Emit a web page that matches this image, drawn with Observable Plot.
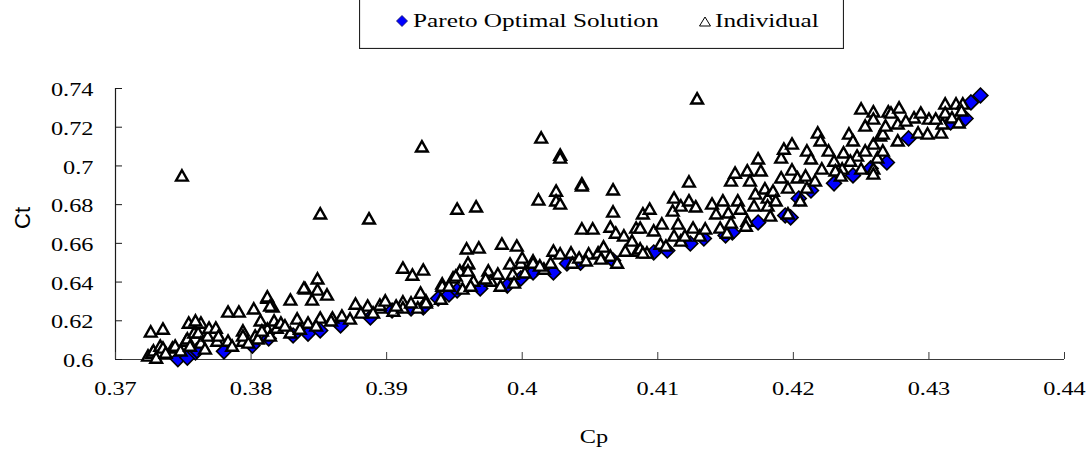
<!DOCTYPE html>
<html>
<head>
<meta charset="utf-8">
<script src="https://cdn.jsdelivr.net/npm/d3@7"></script>
<script src="https://cdn.jsdelivr.net/npm/@observablehq/plot@0.6"></script>
<style>
  body { margin: 0; background: #fff; }
  #wrap { position: relative; width: 1090px; height: 457px; overflow: hidden; background: #fff; }
  #legend { position: absolute; left: 359px; top: -4px; }
</style>
</head>
<body>
<div id="wrap"></div>
<script>
// Pareto optimal solutions (Cp, Ct)
const paretoCp = [
  0.3746, 0.3753, 0.3759, 0.3760, 0.3780, 0.3801, 0.3813, 0.3831, 0.3842, 0.3851,
  0.3866, 0.3888, 0.3904, 0.3918, 0.3927, 0.3938, 0.3946, 0.3952, 0.3969, 0.3989,
  0.3999, 0.4008, 0.4023, 0.4033, 0.4043, 0.4067, 0.4097, 0.4107, 0.4124, 0.4134,
  0.4150, 0.4155, 0.4174, 0.4194, 0.4198, 0.4204, 0.4213, 0.4230, 0.4244, 0.4257,
  0.4269, 0.4285, 0.4316, 0.4327, 0.4331, 0.4338
];
const paretoCt = [
  0.6002, 0.6010, 0.6036, 0.6047, 0.6042, 0.6072, 0.6109, 0.6124, 0.6134, 0.6150,
  0.6176, 0.6217, 0.6253, 0.6264, 0.6269, 0.6315, 0.6336, 0.6357, 0.6367, 0.6382,
  0.6419, 0.6450, 0.6450, 0.6496, 0.6500, 0.6512, 0.6553, 0.6563, 0.6599, 0.6625,
  0.6641, 0.6656, 0.6708, 0.6744, 0.6734, 0.6832, 0.6873, 0.6910, 0.6951, 0.6987,
  0.7018, 0.7142, 0.7225, 0.7245, 0.7328, 0.7364
];

// All individuals of the population (Cp, Ct)
const individualCp = [
  0.3749, 0.3851, 0.3887, 0.3926, 0.3952, 0.3966, 0.4014, 0.4028, 0.4028, 0.4044,
  0.4044, 0.4067, 0.4012, 0.4025, 0.4025, 0.4028, 0.4067, 0.4044, 0.4052, 0.4065,
  0.4069, 0.4129, 0.4123, 0.3912, 0.3919, 0.3927, 0.3849, 0.3840, 0.3849, 0.3856,
  0.3829, 0.3845, 0.3812, 0.3816, 0.3949, 0.3941, 0.3954, 0.3959, 0.3968, 0.3985,
  0.3996, 0.3960,
  0.3726, 0.3735, 0.3724, 0.3727, 0.3728, 0.3732, 0.3733, 0.3735, 0.3742, 0.3744,
  0.3752, 0.3753, 0.3758, 0.3761, 0.3754, 0.3763, 0.3759, 0.3763, 0.3768, 0.3769,
  0.3774, 0.3775, 0.3776, 0.3783, 0.3783, 0.3791, 0.3794, 0.3794, 0.3794, 0.3802,
  0.3803, 0.3805, 0.3812, 0.3814, 0.3812, 0.3814, 0.3817, 0.3819, 0.3807, 0.3822,
  0.3829, 0.3834, 0.3839, 0.3842, 0.3851, 0.3860, 0.3867, 0.3877, 0.3886, 0.3895,
  0.3895, 0.3905, 0.3912, 0.3912, 0.3923, 0.3925, 0.3929, 0.3929, 0.3940, 0.3941,
  0.3951, 0.3956, 0.3960, 0.3960, 0.3964, 0.3975, 0.3977, 0.3982, 0.3991, 0.3993,
  0.3994, 0.3999, 0.4000, 0.4008, 0.4008, 0.4016, 0.4023, 0.4028, 0.4036, 0.4037,
  0.4042, 0.4049, 0.4056, 0.4060, 0.4065, 0.4070, 0.4075, 0.4084, 0.4085, 0.4092,
  0.4087, 0.4087, 0.4089, 0.4089, 0.4094, 0.4097, 0.4102, 0.4103, 0.4111, 0.4112,
  0.4112, 0.4115, 0.4117, 0.4117, 0.4123, 0.4126, 0.4128, 0.4131, 0.4140, 0.4143,
  0.4146, 0.4148, 0.4151, 0.4152, 0.4154, 0.4154, 0.4157, 0.4159, 0.4161, 0.4166,
  0.4166, 0.4168, 0.4171, 0.4172, 0.4174, 0.4176, 0.4179, 0.4181, 0.4181, 0.4185,
  0.4191, 0.4191, 0.4193, 0.4196, 0.4196, 0.4199, 0.4199, 0.4203, 0.4210, 0.4210,
  0.4213, 0.4218, 0.4220, 0.4221, 0.4226, 0.4230, 0.4236, 0.4237, 0.4241, 0.4244,
  0.4247, 0.4250, 0.4250, 0.4259, 0.4259, 0.4259, 0.4259, 0.4259, 0.4262, 0.4264,
  0.4266, 0.4266, 0.4270, 0.4272, 0.4277, 0.4277, 0.4278, 0.4289, 0.4292, 0.4299,
  0.4300, 0.4309, 0.4310, 0.4312, 0.4312, 0.4317, 0.4320, 0.4322, 0.4325,
  0.3730, 0.3737, 0.3748, 0.3755, 0.3766, 0.3786, 0.3798, 0.3808, 0.3825, 0.3836,
  0.3848, 0.3859, 0.3873, 0.3881, 0.3890, 0.3899, 0.3907, 0.3918, 0.3946,
  0.3962, 0.3973, 0.3984, 0.4002, 0.4013, 0.4021, 0.4047, 0.4058, 0.4076, 0.4081,
  0.4106, 0.4120, 0.4135, 0.4165, 0.4183, 0.4187, 0.4205, 0.4209, 0.4216, 0.4231,
  0.4235, 0.4242, 0.4253, 0.4253, 0.4268, 0.4283, 0.4294, 0.4305, 0.4324
];
const individualCt = [
  0.6951, 0.6755, 0.6729, 0.7101, 0.6780, 0.6791, 0.7147, 0.7059, 0.7044, 0.6910,
  0.6900, 0.6879, 0.6827, 0.6873, 0.6822, 0.6806, 0.6765, 0.6677, 0.6677, 0.6687,
  0.6656, 0.7349, 0.6920, 0.6475, 0.6439, 0.6465, 0.6419, 0.6367, 0.6362, 0.6336,
  0.6310, 0.6310, 0.6320, 0.6274, 0.6424, 0.6393, 0.6460, 0.6574, 0.6579, 0.6599,
  0.6589, 0.6496,
  0.6145, 0.6160, 0.6021, 0.6036, 0.6047, 0.6036, 0.6072, 0.6062, 0.6062, 0.6072,
  0.6098, 0.6109, 0.6140, 0.6140, 0.6191, 0.6191, 0.6202, 0.6088, 0.6124, 0.6165,
  0.6165, 0.6098, 0.6124, 0.6098, 0.6248, 0.6248, 0.6150, 0.6098, 0.6124, 0.6264,
  0.6124, 0.6109, 0.6326, 0.6279, 0.6160, 0.6124, 0.6202, 0.6165, 0.6202, 0.6191,
  0.6140, 0.6212, 0.6372, 0.6191, 0.6217, 0.6217, 0.6227, 0.6289, 0.6279, 0.6269,
  0.6284, 0.6253, 0.6300, 0.6269, 0.6269, 0.6346, 0.6305, 0.6295, 0.6315, 0.6382,
  0.6434, 0.6367, 0.6501, 0.6460, 0.6408, 0.6460, 0.6408, 0.6444, 0.6496, 0.6444,
  0.6398, 0.6501, 0.6527, 0.6512, 0.6501, 0.6470, 0.6563, 0.6548, 0.6553, 0.6501,
  0.6527, 0.6548, 0.6553, 0.6584, 0.6537, 0.6501, 0.6641, 0.6682, 0.6563, 0.6553,
  0.6682, 0.6574, 0.6755, 0.6553, 0.6780, 0.6667, 0.6599, 0.6703, 0.6770, 0.6837,
  0.6641, 0.6703, 0.6796, 0.6615, 0.6822, 0.6682, 0.6791, 0.6641, 0.6806, 0.6755,
  0.6682, 0.6822, 0.6656, 0.6760, 0.6708, 0.6925, 0.6966, 0.6822, 0.6780, 0.6718,
  0.6977, 0.6925, 0.6796, 0.6858, 0.7039, 0.6977, 0.6884, 0.6837, 0.6796, 0.6873,
  0.7044, 0.6941, 0.7090, 0.6889, 0.6755, 0.7116, 0.6982, 0.6941, 0.7080, 0.6889,
  0.7039, 0.7173, 0.7132, 0.6987, 0.7080, 0.7028, 0.6987, 0.7070, 0.7168, 0.7132,
  0.7054, 0.7297, 0.6987, 0.7282, 0.7245, 0.7116, 0.6987, 0.6961, 0.7044, 0.7158,
  0.7168, 0.7080, 0.7282, 0.7276, 0.7220, 0.7132, 0.7302, 0.7251, 0.7173, 0.7168,
  0.7245, 0.7173, 0.7220, 0.7323, 0.7276, 0.7251, 0.7323, 0.7225, 0.7323,
  0.6010, 0.6036, 0.6047, 0.6072, 0.6057, 0.6072, 0.6088, 0.6150, 0.6176, 0.6160,
  0.6176, 0.6202, 0.6212, 0.6243, 0.6243, 0.6305, 0.6279, 0.6295, 0.6382,
  0.6382, 0.6419, 0.6382, 0.6450, 0.6486, 0.6501, 0.6512, 0.6522, 0.6563, 0.6615,
  0.6589, 0.6641, 0.6677, 0.6692, 0.6744, 0.6822, 0.6822, 0.6951, 0.6925, 0.6977,
  0.6951, 0.7028, 0.7080, 0.7209, 0.7209, 0.7235, 0.7276, 0.7245, 0.7287
];

// Axis ticks and their labels
const xTicks = [0.37, 0.38, 0.39, 0.40, 0.41, 0.42, 0.43, 0.44];
const xTickLabels = ["0.37", "0.38", "0.39", "0.4", "0.41", "0.42", "0.43", "0.44"];
const yTicks = [0.60, 0.62, 0.64, 0.66, 0.68, 0.70, 0.72, 0.74];
const yTickLabels = ["0.6", "0.62", "0.64", "0.66", "0.68", "0.7", "0.72", "0.74"];
const xTitle = "Cp";
const yTitle = "Ct";
const seriesNames = ["Pareto Optimal Solution", "Individual"];

const pareto = paretoCp.map((cp, i) => ({cp, ct: paretoCt[i]}));
const individuals = individualCp.map((cp, i) => ({cp, ct: individualCt[i]}));
const xLabelOf = new Map(xTicks.map((t, i) => [t, xTickLabels[i]]));
const yLabelOf = new Map(yTicks.map((t, i) => [t, yTickLabels[i]]));

// Marker shapes: hollow triangle and filled diamond, sized from the dot radius
const triangleShape = {
  draw(ctx, size) {
    const r = Math.sqrt(size / Math.PI);
    const h = 1.1 * r, w = 1.25 * r;
    ctx.moveTo(0, -h); ctx.lineTo(w, h); ctx.lineTo(-w, h); ctx.closePath();
  }
};
const diamondShape = {
  draw(ctx, size) {
    const r = Math.sqrt(size / Math.PI);
    const d = 1.55 * r;
    ctx.moveTo(0, -d); ctx.lineTo(d, 0); ctx.lineTo(0, d); ctx.lineTo(-d, 0); ctx.closePath();
  }
};

const serif = "Liberation Serif, Times New Roman, serif";

const chart = Plot.plot({
  width: 1090,
  height: 457,
  marginLeft: 115,
  marginRight: 26,
  marginTop: 88,
  marginBottom: 98,
  style: {fontFamily: serif, fontSize: "19px", background: "#fff", color: "#000", overflow: "visible"},
  x: {domain: [0.37, 0.44], axis: null},
  y: {domain: [0.6, 0.74], axis: null},
  marks: [
    // axis lines
    Plot.ruleY([0.6], {stroke: "#3a3a3a", strokeWidth: 1.2}),
    Plot.ruleX([0.37], {stroke: "#1a1a1a", strokeWidth: 1.2}),
    // inward tick marks
    Plot.axisX({ticks: xTicks, tickSize: 7, dy: -7, tickFormat: () => "", label: null, stroke: "#3a3a3a"}),
    Plot.axisY({ticks: yTicks, tickSize: 7, dx: 7, tickFormat: () => "", label: null, stroke: "#1a1a1a"}),
    // tick labels
    Plot.axisX({ticks: xTicks, tickSize: 0, tickPadding: 22, tickFormat: (d) => xLabelOf.get(d), label: null, fill: "#000"}),
    Plot.axisY({ticks: yTicks, tickSize: 0, tickPadding: 22, dy: 1.5, tickFormat: (d) => yLabelOf.get(d), label: null, fill: "#000"}),
    // axis titles
    Plot.text([yTitle], {text: (d) => d, frameAnchor: "left", rotate: -90, dx: -93, dy: 5,
      fontFamily: "Liberation Sans, Arial, sans-serif", fontSize: 22, fill: "#000"}),
    Plot.text([xTitle], {text: (d) => d, frameAnchor: "bottom", dy: 83, dx: 4, fill: "#000"}),
    // series
    Plot.dot(pareto, {x: "cp", y: "ct", r: 4.8, symbol: diamondShape, fill: "#0000ff", stroke: "#000", strokeWidth: 1.6}),
    Plot.dot(individuals, {x: "cp", y: "ct", r: 4.7, symbol: triangleShape, fill: "#fff", stroke: "#000", strokeWidth: 2.4})
  ]
});

// Widen the serif labels horizontally, keeping each anchored where it is
const stretch = 1.28;
d3.select(chart).selectAll("text").each(function () {
  const t = this.getAttribute("transform");
  if (t && t.includes("rotate")) return;
  if (t) {
    this.setAttribute("transform", `${t} scale(${stretch},1)`);
  } else {
    const x = +this.getAttribute("x") || 0, y = +this.getAttribute("y") || 0;
    this.setAttribute("x", 0); this.setAttribute("y", 0);
    this.setAttribute("transform", `translate(${x},${y}) scale(${stretch},1)`);
  }
});

const wrap = document.getElementById("wrap");
wrap.appendChild(chart);

// Legend box above the plot
const legend = d3.select(wrap).append("svg")
  .attr("id", "legend")
  .attr("width", 485)
  .attr("height", 53);
legend.append("rect")
  .attr("x", 0.5).attr("y", 0.5).attr("width", 484).attr("height", 52)
  .attr("fill", "#fff").attr("stroke", "#222").attr("stroke-width", 1.2);
legend.append("path")
  .attr("d", "M43,19.5L48.5,25L43,30.5L37.5,25Z")
  .attr("fill", "#0000ff").attr("stroke", "#101060").attr("stroke-width", 0.8);
legend.append("path")
  .attr("d", "M346,21L351.5,30L340.5,30Z")
  .attr("fill", "#fff").attr("stroke", "#000").attr("stroke-width", 1);
legend.selectAll("text.item")
  .data([{x: 54, label: seriesNames[0]}, {x: 356, label: seriesNames[1]}])
  .join("text")
  .attr("class", "item")
  .attr("transform", (d) => `translate(${d.x},31) scale(1.33,1)`)
  .attr("font-family", serif)
  .attr("font-size", 19)
  .attr("fill", "#000")
  .text((d) => d.label);
</script>
</body>
</html>
